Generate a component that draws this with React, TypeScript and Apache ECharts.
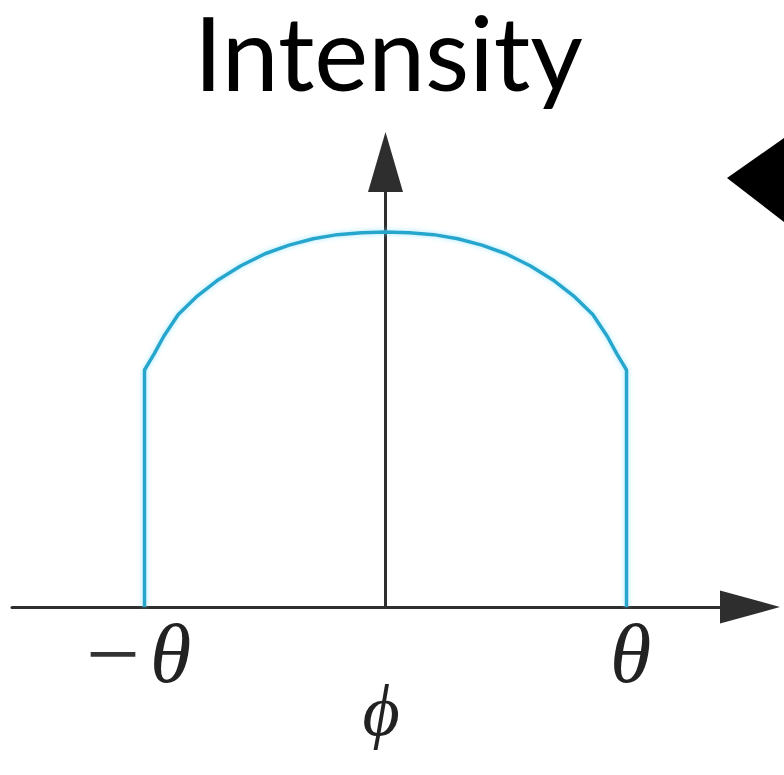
import React, { useEffect, useRef } from "react";
import * as echarts from "echarts";

// Angle in units of θ, relative intensity (peak = 1)
const phiValues = [-1, -1, -0.96, -0.92, -0.86, -0.78, -0.7, -0.6, -0.5, -0.4, -0.3, -0.2, -0.1, 0, 0.1, 0.2, 0.3, 0.4, 0.5, 0.6, 0.7, 0.78, 0.86, 0.92, 0.96, 1, 1];
const intensityValues = [0, 0.632, 0.675, 0.722, 0.78, 0.83, 0.87, 0.91, 0.942, 0.965, 0.982, 0.993, 0.998, 1, 0.998, 0.993, 0.982, 0.965, 0.942, 0.91, 0.87, 0.83, 0.78, 0.722, 0.675, 0.632, 0];
const tickValues = [-1, 1];
const tickLabels = ["−θ", "θ"];
const titleText = "Intensity";
const xName = "ϕ";

export default function App() {
  const ref = useRef<HTMLDivElement>(null);
  useEffect(() => {
    if (!ref.current) return;
    const chart = echarts.init(ref.current, null, { renderer: "svg" });
    const axisColor = "#2e2e2e";
    const serif = "Liberation Serif, DejaVu Serif, serif";
    chart.setOption({
      animation: false,
      backgroundColor: "#ffffff",
      title: {
        text: titleText,
        left: 194,
        top: 0,
        padding: 0,
        textStyle: { fontFamily: "Lato", fontSize: 102, lineHeight: 102, fontWeight: "normal", color: "#000" },
      },
      grid: { left: 12, right: 34, top: 162, bottom: 168, containLabel: false, outerBoundsMode: "none" },
      xAxis: {
        type: "value",
        min: -1.5498,
        max: 1.5124,
        name: xName,
        nameLocation: "middle",
        nameGap: 68,
        nameMoveOverlap: false,
        nameTextStyle: { fontFamily: serif, fontStyle: "italic", fontSize: 72, lineHeight: 72, color: "#222" },
        axisLine: {
          onZero: true,
          symbol: ["none", "triangle"],
          symbolSize: [33, 60],
          lineStyle: { color: axisColor, width: 3 },
        },
        axisTick: { show: false },
        splitLine: { show: false },
        axisLabel: {
          customValues: tickValues,
          margin: 4,
          formatter: (v: number) => {
            const idx = tickValues.indexOf(v);
            const t = tickLabels[idx] ?? "";
            return t.startsWith("−") ? "{m|−}{tl|θ}" : "{t|θ}";
          },
          rich: {
            m: { fontFamily: serif, fontSize: 96, lineHeight: 84, color: "#333", padding: [0, 10, 0, 0] },
            tl: { fontFamily: serif, fontStyle: "italic", fontSize: 84, lineHeight: 84, color: "#222", padding: [0, 12, 0, 0] },
            t: { fontFamily: serif, fontStyle: "italic", fontSize: 84, lineHeight: 84, color: "#222", padding: [0, 0, 0, 8] },
          },
        },
      },
      yAxis: {
        type: "value",
        min: 0,
        max: 1.1867,
        axisLine: {
          onZero: true,
          symbol: ["none", "triangle"],
          symbolSize: [35, 60],
          lineStyle: { color: axisColor, width: 3 },
        },
        axisTick: { show: false },
        splitLine: { show: false },
        axisLabel: { show: false },
      },
      graphic: [
        {
          type: "polygon",
          shape: { points: [[727, 178], [784, 138], [784, 222]] },
          style: { fill: "#000" },
        },
      ],
      series: [
        {
          type: "line",
          data: phiValues.map((x, i) => [x, intensityValues[i]]),
          symbol: "none",
          smooth: false,
          lineStyle: {
            color: "#27a6cc",
            width: 3.5,
            shadowColor: "rgba(120,225,255,0.7)",
            shadowBlur: 5,
          },
          z: 1,
        },
      ],
    });
    return () => chart.dispose();
  }, []);
  return (
    <div
      ref={ref}
      style={{ position: "fixed", left: 0, top: 0, width: 784, height: 775, background: "#fff" }}
    />
  );
}
